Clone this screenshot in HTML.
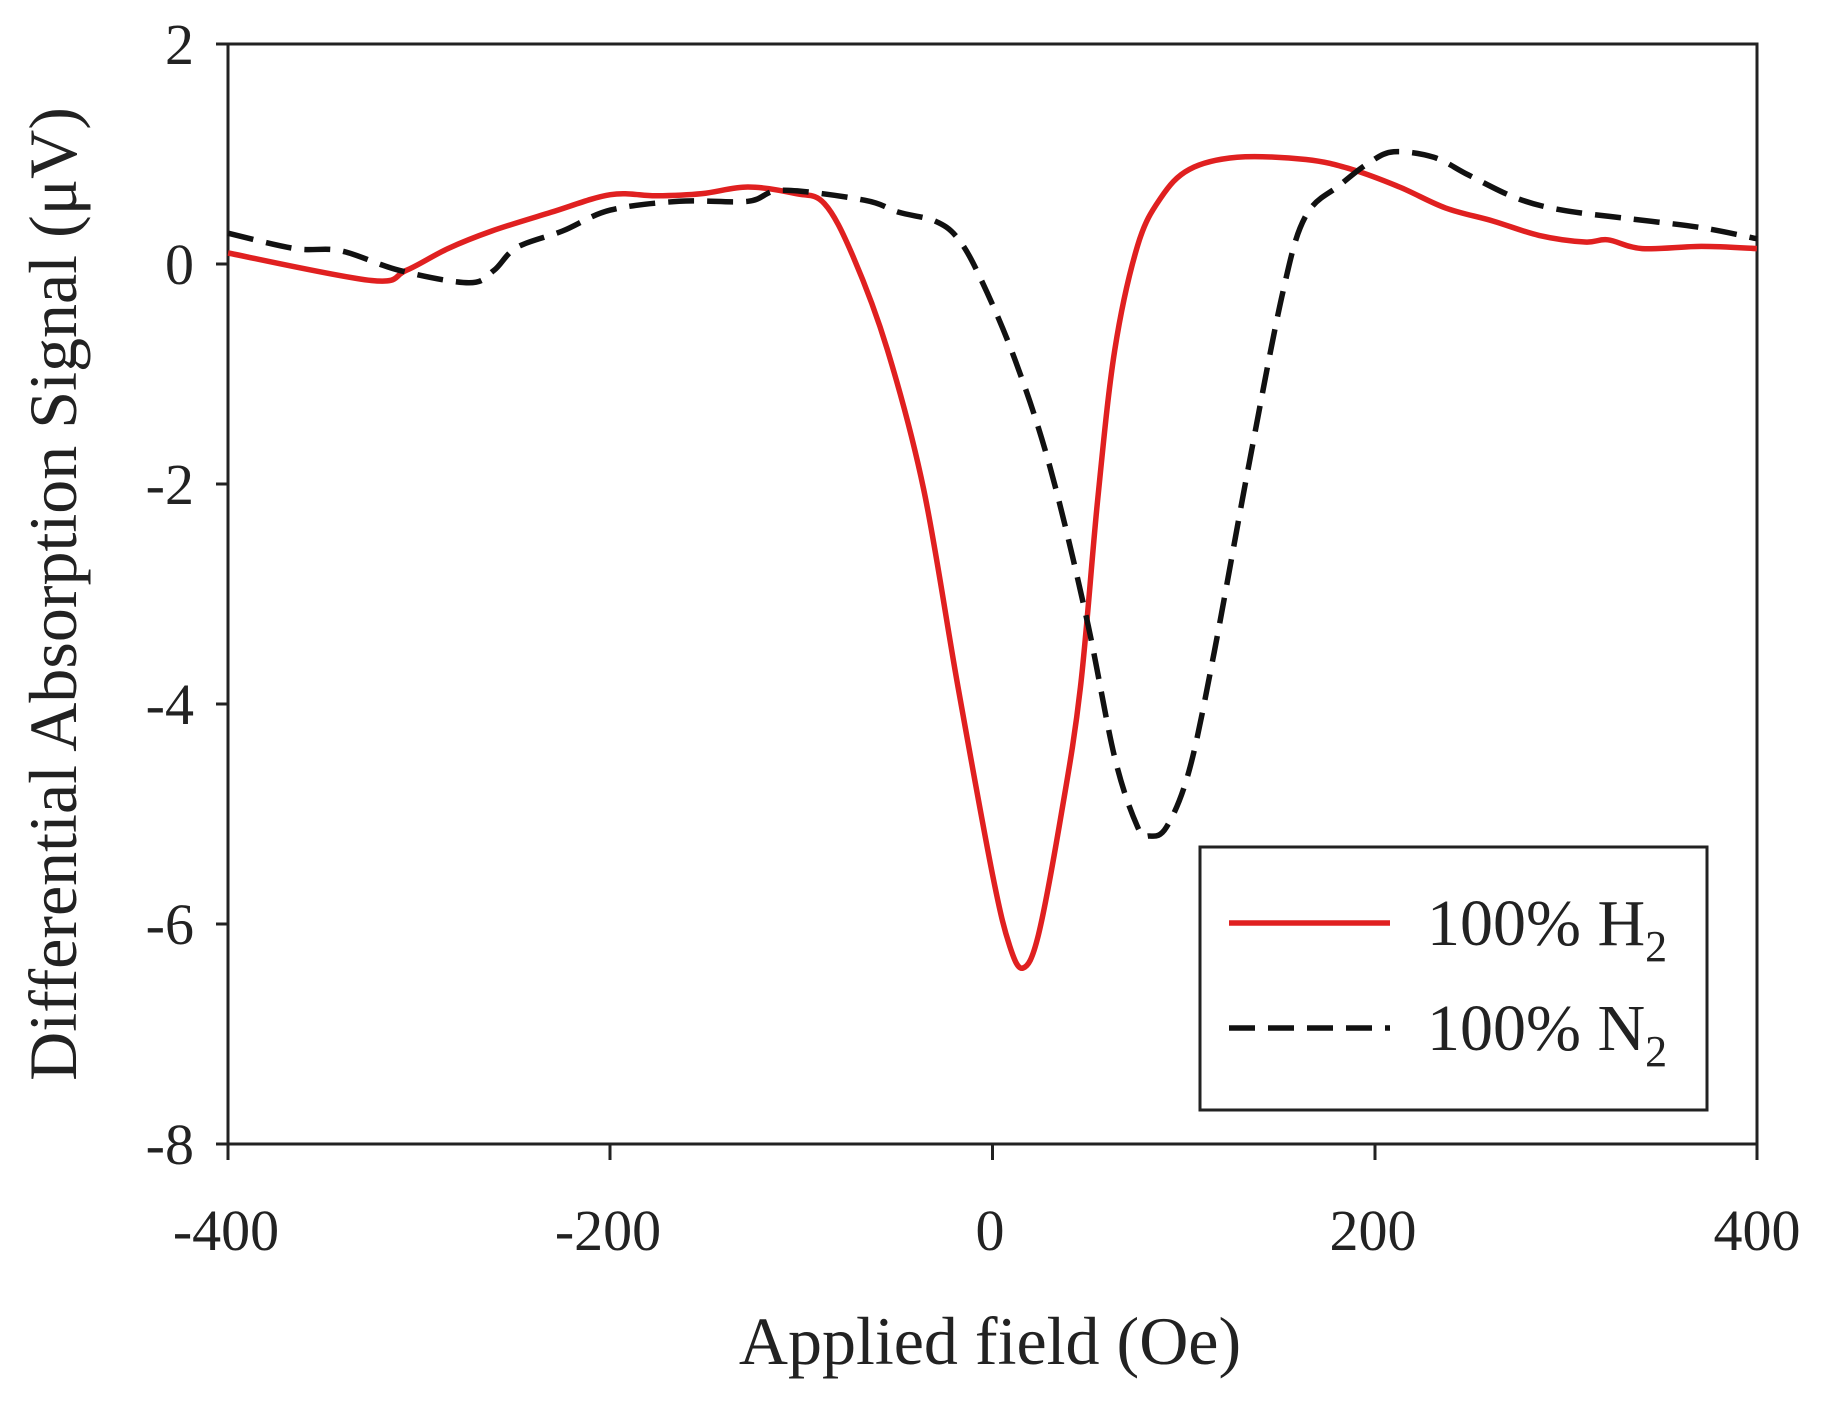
<!DOCTYPE html>
<html><head><meta charset="utf-8"><style>
html,body{margin:0;padding:0;background:#fff;}
svg text{font-family:"Liberation Serif",serif;fill:#222;}
</style></head><body>
<svg id="s" width="1826" height="1398" viewBox="0 0 1826 1398" xmlns="http://www.w3.org/2000/svg">
<rect width="1826" height="1398" fill="#fff"/>
<g stroke="#222" stroke-width="3" fill="none">
<rect x="228" y="44" width="1529" height="1100"/>
<line x1="216" y1="44" x2="228" y2="44"/>
<line x1="216" y1="264" x2="228" y2="264"/>
<line x1="216" y1="484" x2="228" y2="484"/>
<line x1="216" y1="704" x2="228" y2="704"/>
<line x1="216" y1="924" x2="228" y2="924"/>
<line x1="216" y1="1144" x2="228" y2="1144"/>
<line x1="228" y1="1144" x2="228" y2="1160"/>
<line x1="610" y1="1144" x2="610" y2="1160"/>
<line x1="992.5" y1="1144" x2="992.5" y2="1160"/>
<line x1="1375" y1="1144" x2="1375" y2="1160"/>
<line x1="1757" y1="1144" x2="1757" y2="1160"/>
</g>
<g font-size="58" text-anchor="end">
<text x="194" y="64">2</text>
<text x="194" y="284">0</text>
<text x="194" y="504">-2</text>
<text x="194" y="724">-4</text>
<text x="194" y="944">-6</text>
<text x="194" y="1164">-8</text>
</g>
<g font-size="58" text-anchor="middle">
<text x="226" y="1250">-400</text>
<text x="608" y="1250">-200</text>
<text x="990" y="1250">0</text>
<text x="1373" y="1250">200</text>
<text x="1757" y="1250">400</text>
</g>
<text x="990" y="1364" font-size="68" text-anchor="middle">Applied field (Oe)</text>
<text transform="translate(76,594) rotate(-90)" font-size="68" text-anchor="middle">Differential Absorption Signal (μV)</text>
<path id="red" fill="none" stroke="#e02020" stroke-width="5.5" stroke-linejoin="round"/>
<path id="blk" fill="none" stroke="#111" stroke-width="5.5" stroke-dasharray="26,13"/>
<rect x="1200" y="847" width="507" height="263" fill="#fff" stroke="#222" stroke-width="3"/>
<line x1="1229" y1="923" x2="1390" y2="923" stroke="#e02020" stroke-width="5.5"/>
<line x1="1229" y1="1028" x2="1390" y2="1028" stroke="#111" stroke-width="5.5" stroke-dasharray="26,13"/>
<text x="1427" y="945" font-size="66">100% H<tspan font-size="44" dy="16">2</tspan></text>
<text x="1427" y="1050" font-size="66">100% N<tspan font-size="44" dy="16">2</tspan></text>
</svg>
<script>
var R=[[-400,0.1],[-325,-0.15],[-307,-0.06],[-285,0.14],[-262,0.3],[-231,0.47],[-200,0.63],[-176,0.62],[-152,0.64],[-128,0.7],[-103,0.64],[-88,0.55],[-73,0.07],[-55,-0.78],[-36,-2.05],[-18,-3.85],[0,-5.55],[9,-6.2],[16,-6.4],[24,-6.1],[36,-5.0],[46,-3.85],[55,-2.15],[64,-0.78],[76,0.17],[88,0.6],[103,0.86],[128,0.97],[164,0.95],[188,0.86],[213,0.7],[237,0.51],[262,0.39],[286,0.26],[310,0.2],[322,0.22],[340,0.14],[371,0.16],[400,0.14]];
var B=[[-400,0.28],[-365,0.14],[-341,0.12],[-310,-0.06],[-274,-0.17],[-261,-0.06],[-249,0.15],[-225,0.3],[-200,0.49],[-164,0.57],[-128,0.57],[-110,0.67],[-67,0.58],[-49,0.47],[-30,0.39],[-18,0.23],[-6,-0.14],[12,-0.88],[30,-1.84],[49,-3.2],[64,-4.49],[76,-5.12],[82,-5.2],[91,-5.12],[103,-4.6],[116,-3.53],[134,-1.84],[152,-0.25],[164,0.44],[182,0.72],[197,0.92],[210,1.02],[231,0.97],[249,0.81],[274,0.6],[298,0.49],[334,0.41],[371,0.33],[400,0.23]];
function p(a){
 var P=a.map(function(q){return [992.5+1.911*q[0],264-110*q[1]];});
 var d='M'+P[0][0].toFixed(1)+' '+P[0][1].toFixed(1);
 for(var i=0;i<P.length-1;i++){
  var p0=P[Math.max(i-1,0)],p1=P[i],p2=P[i+1],p3=P[Math.min(i+2,P.length-1)];
  var c1=[p1[0]+(p2[0]-p0[0])/6,p1[1]+(p2[1]-p0[1])/6];
  var c2=[p2[0]-(p3[0]-p1[0])/6,p2[1]-(p3[1]-p1[1])/6];
  d+=' C'+c1[0].toFixed(1)+' '+c1[1].toFixed(1)+' '+c2[0].toFixed(1)+' '+c2[1].toFixed(1)+' '+p2[0].toFixed(1)+' '+p2[1].toFixed(1);
 }
 return d;}
document.getElementById('red').setAttribute('d',p(R));
document.getElementById('blk').setAttribute('d',p(B));
</script>
</body></html>
